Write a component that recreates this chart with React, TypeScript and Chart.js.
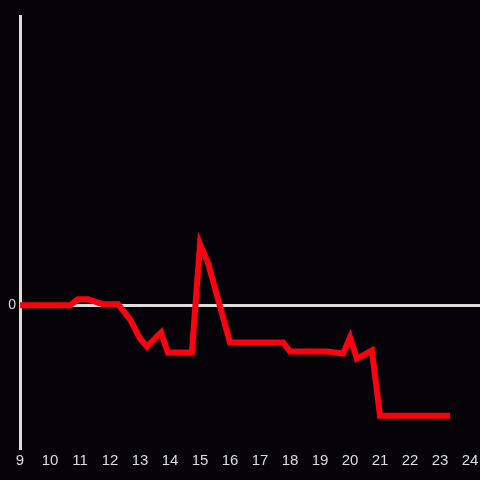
import React, { useEffect, useRef } from "react";
import { Chart, registerables } from "chart.js";

Chart.register(...registerables);

const xValues = [9, 10.67, 10.93, 11.27, 11.77, 12.27, 12.67, 13.0, 13.23, 13.7, 13.93, 14.73, 15.0, 15.27, 16.0, 17.77, 18.0, 19.23, 19.77, 20.0, 20.23, 20.73, 21.0, 23.33];
const yValues = [0, 0, 0.06, 0.06, 0.01, 0.01, -0.14, -0.33, -0.41, -0.27, -0.47, -0.47, 0.61, 0.42, -0.37, -0.37, -0.46, -0.46, -0.48, -0.32, -0.53, -0.45, -1.1, -1.1];
const xTicks = [9, 10, 11, 12, 13, 14, 15, 16, 17, 18, 19, 20, 21, 22, 23, 24];
const yTicks = [0];

export default function App() {
  const ref = useRef<HTMLCanvasElement>(null);
  useEffect(() => {
    if (!ref.current) return;
    const chart = new Chart(ref.current, {
      type: "line",
      data: {
        datasets: [
          {
            data: xValues.map((x, i) => ({ x, y: yValues[i] })),
            borderColor: "#ff0010",
            borderWidth: 6,
            pointRadius: 0,
            tension: 0,
            fill: false,
          },
        ],
      },
      options: {
        animation: false,
        responsive: false,
        layout: { padding: { top: 16, right: 0, left: 0, bottom: 0 } },
        plugins: { legend: { display: false }, tooltip: { enabled: false } },
        scales: {
          x: {
            type: "linear",
            min: 9,
            max: 24.333,
            afterBuildTicks: (s: any) => {
              s.ticks = xTicks.map((v) => ({ value: v }));
            },
            afterFit: (s: any) => {
              s.height = 32;
              s.paddingLeft = 0;
              s.paddingRight = 0;
            },
            grid: { display: false, drawTicks: false },
            border: { display: false },
            ticks: { color: "#dddddd", font: { size: 15 }, padding: 4, maxRotation: 0, autoSkip: false },
          },
          y: {
            type: "linear",
            min: -1.42,
            max: 2.88,
            afterBuildTicks: (s: any) => {
              s.ticks = yTicks.map((v) => ({ value: v }));
            },
            afterFit: (s: any) => {
              s.width = 20;
            },
            grid: { color: "#dddddd", lineWidth: 3, drawTicks: false },
            border: { display: true, color: "#dddddd", width: 3 },
            ticks: { color: "#dddddd", font: { size: 14 }, padding: 4 },
          },
        },
      },
    });
    return () => chart.destroy();
  }, []);
  return (
    <div style={{ position: "fixed", left: 0, top: 0, width: 480, height: 480, background: "#050308" }}>
      <canvas ref={ref} width={480} height={480} style={{ width: 480, height: 480 }} />
    </div>
  );
}
